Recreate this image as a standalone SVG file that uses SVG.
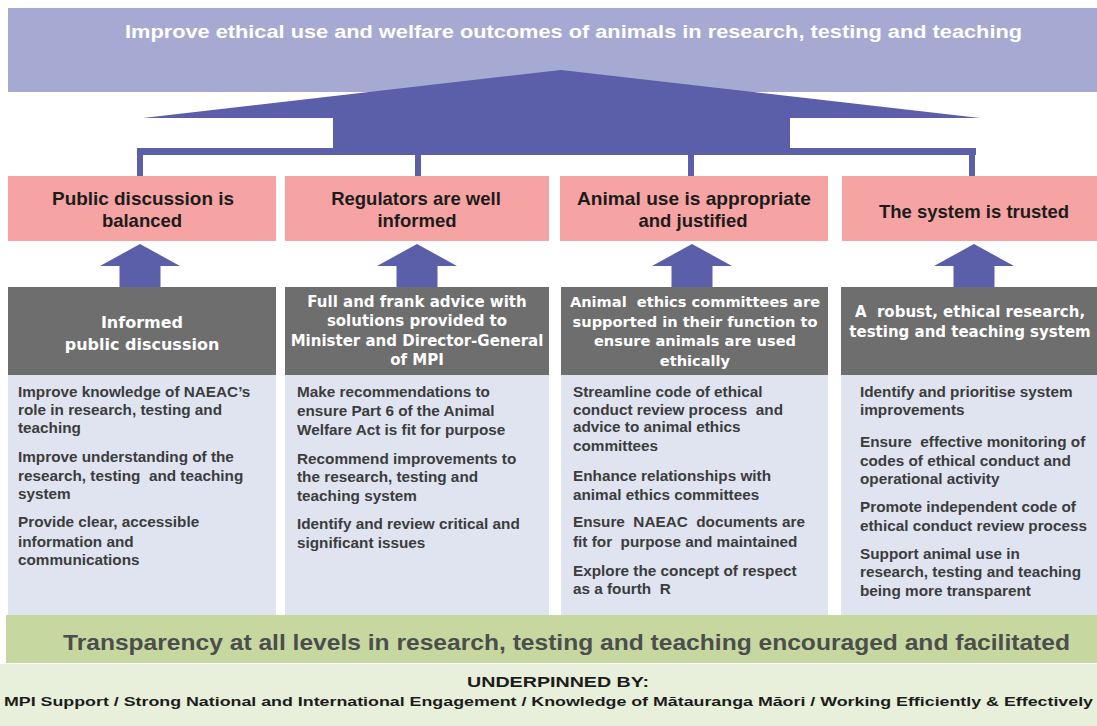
<svg xmlns="http://www.w3.org/2000/svg" width="1097" height="726" viewBox="0 0 1097 726">
<style>
.bg{fill:#ffffff}
.goal{fill:#a6a9d2}
.conn{fill:#5b5ea8}
.pink{fill:#f6a3a3}
.grey{fill:#6e6e6e}
.blue{fill:#dfe4f0}
.green{fill:#c6d8a0}
.lgreen{fill:#e8efdb}
.title{font-family:"Liberation Sans",Arial,sans-serif;font-weight:bold;font-size:18px;fill:#ffffff}
.pt{font-family:"Liberation Sans",Arial,sans-serif;font-weight:bold;font-size:18.5px;fill:#1c1c1c;text-anchor:middle}
.gt{font-family:"DejaVu Sans",Verdana,sans-serif;font-weight:bold;font-size:15px;fill:#ffffff;text-anchor:middle}
.gt3{font-family:"DejaVu Sans",Verdana,sans-serif;font-weight:bold;font-size:14.6px;fill:#ffffff;text-anchor:middle}
.gt2{font-family:"DejaVu Sans",Verdana,sans-serif;font-weight:bold;font-size:16px;fill:#ffffff;text-anchor:middle}
.gt4{font-family:"DejaVu Sans",Verdana,sans-serif;font-weight:bold;font-size:15px;fill:#ffffff;text-anchor:middle}
.bt{font-family:"Liberation Sans",Arial,sans-serif;font-weight:bold;font-size:15.3px;fill:#3c3c3c}
.tr{font-family:"Liberation Sans",Arial,sans-serif;font-weight:bold;font-size:22px;fill:#4d4d4d}
.ub{font-family:"Liberation Sans",Arial,sans-serif;font-weight:bold;font-size:15px;fill:#1c1c1c;text-anchor:middle}
.mp{font-family:"Liberation Sans",Arial,sans-serif;font-weight:bold;font-size:13px;fill:#1c1c1c}
</style>
<defs>
<path id="uparrow" d="M0,0 L40,22 L20.5,22 L20.5,43 L-20.5,43 L-20.5,22 L-40,22 Z"/>
</defs>
<rect class="bg" x="0" y="0" width="1097" height="726"/>

<g id="goal">
<rect class="goal" x="8" y="8" width="1089" height="84"/>
<text class="title" x="125" y="38" textLength="897" lengthAdjust="spacingAndGlyphs">Improve ethical use and welfare outcomes of animals in research, testing and teaching</text>
</g>

<g id="connectors">
<polygon class="conn" points="143,118 561,70 980,118"/>
<rect class="conn" x="333" y="117" width="457" height="38"/>
<rect class="conn" x="137" y="148" width="839" height="7"/>
<rect class="conn" x="137" y="154" width="6" height="23"/>
<rect class="conn" x="415" y="154" width="6" height="23"/>
<rect class="conn" x="688" y="154" width="6" height="23"/>
<rect class="conn" x="969" y="154" width="6" height="23"/>
<use href="#uparrow" class="conn" x="140" y="244"/>
<use href="#uparrow" class="conn" x="417" y="244"/>
<use href="#uparrow" class="conn" x="692" y="244"/>
<use href="#uparrow" class="conn" x="974" y="244"/>
</g>

<g id="outcome-1">
<rect class="pink" x="8" y="176" width="268" height="65"/>
<text class="pt" x="143" y="205" textLength="182" lengthAdjust="spacingAndGlyphs">Public discussion is</text>
<text class="pt" x="142" y="227">balanced</text>
</g>
<g id="outcome-2">
<rect class="pink" x="285" y="176" width="264" height="65"/>
<text class="pt" x="416" y="205">Regulators are well</text>
<text class="pt" x="417" y="227">informed</text>
</g>
<g id="outcome-3">
<rect class="pink" x="560" y="176" width="268" height="65"/>
<text class="pt" x="694" y="205" textLength="234" lengthAdjust="spacingAndGlyphs">Animal use is appropriate</text>
<text class="pt" x="693" y="227">and justified</text>
</g>
<g id="outcome-4">
<rect class="pink" x="842" y="176" width="255" height="65"/>
<text class="pt" x="974" y="218">The system is trusted</text>
</g>

<g id="objective-1">
<rect class="grey" x="8" y="287" width="268" height="88"/>
<text class="gt2" x="142" y="328">Informed</text>
<text class="gt2" x="142" y="350">public discussion</text>
</g>
<g id="objective-2">
<rect class="grey" x="285" y="287" width="264" height="88"/>
<text class="gt" x="417" y="307">Full and frank advice with</text>
<text class="gt" x="417" y="326">solutions provided to</text>
<text class="gt" x="417" y="346">Minister and Director-General</text>
<text class="gt" x="417" y="365">of MPI</text>
</g>
<g id="objective-3">
<rect class="grey" x="561" y="287" width="267" height="88"/>
<text class="gt3" x="695" y="307" xml:space="preserve">Animal  ethics committees are</text>
<text class="gt3" x="695" y="327">supported in their function to</text>
<text class="gt3" x="695" y="346">ensure animals are used</text>
<text class="gt3" x="695" y="366">ethically</text>
</g>
<g id="objective-4">
<rect class="grey" x="841" y="287" width="256" height="88"/>
<text class="gt4" x="970" y="317" xml:space="preserve">A  robust, ethical research,</text>
<text class="gt4" x="970" y="337">testing and teaching system</text>
</g>

<g id="actions-1">
<rect class="blue" x="8" y="375" width="268" height="240"/>
<text class="bt" x="18" y="397">Improve knowledge of NAEAC’s</text>
<text class="bt" x="18" y="415">role in research, testing and</text>
<text class="bt" x="18" y="433">teaching</text>
<text class="bt" x="18" y="462">Improve understanding of the</text>
<text class="bt" x="18" y="481" xml:space="preserve">research, testing  and teaching</text>
<text class="bt" x="18" y="499">system</text>
<text class="bt" x="18" y="527">Provide clear, accessible</text>
<text class="bt" x="18" y="547">information and</text>
<text class="bt" x="18" y="565">communications</text>
</g>
<g id="actions-2">
<rect class="blue" x="285" y="375" width="264" height="240"/>
<text class="bt" x="297" y="397">Make recommendations to</text>
<text class="bt" x="297" y="416">ensure Part 6 of the Animal</text>
<text class="bt" x="297" y="435">Welfare Act is fit for purpose</text>
<text class="bt" x="297" y="464">Recommend improvements to</text>
<text class="bt" x="297" y="482">the research, testing and</text>
<text class="bt" x="297" y="501">teaching system</text>
<text class="bt" x="297" y="529">Identify and review critical and</text>
<text class="bt" x="297" y="548">significant issues</text>
</g>
<g id="actions-3">
<rect class="blue" x="561" y="375" width="267" height="240"/>
<text class="bt" x="573" y="397">Streamline code of ethical</text>
<text class="bt" x="573" y="415" xml:space="preserve">conduct review process  and</text>
<text class="bt" x="573" y="432">advice to animal ethics</text>
<text class="bt" x="573" y="451">committees</text>
<text class="bt" x="573" y="481">Enhance relationships with</text>
<text class="bt" x="573" y="500">animal ethics committees</text>
<text class="bt" x="573" y="527" xml:space="preserve">Ensure  NAEAC  documents are</text>
<text class="bt" x="573" y="547" xml:space="preserve">fit for  purpose and maintained</text>
<text class="bt" x="573" y="576">Explore the concept of respect</text>
<text class="bt" x="573" y="594" xml:space="preserve">as a fourth  R</text>
</g>
<g id="actions-4">
<rect class="blue" x="841" y="375" width="256" height="240"/>
<text class="bt" x="860" y="397">Identify and prioritise system</text>
<text class="bt" x="860" y="415">improvements</text>
<text class="bt" x="860" y="447" xml:space="preserve">Ensure  effective monitoring of</text>
<text class="bt" x="860" y="466">codes of ethical conduct and</text>
<text class="bt" x="860" y="484">operational activity</text>
<text class="bt" x="860" y="512">Promote independent code of</text>
<text class="bt" x="860" y="531">ethical conduct review process</text>
<text class="bt" x="860" y="559">Support animal use in</text>
<text class="bt" x="860" y="577">research, testing and teaching</text>
<text class="bt" x="860" y="596">being more transparent</text>
</g>

<g id="transparency">
<rect class="green" x="6" y="615" width="1091" height="48"/>
<text class="tr" x="63" y="650" textLength="1007" lengthAdjust="spacingAndGlyphs">Transparency at all levels in research, testing and teaching encouraged and facilitated</text>
</g>
<g id="underpinned">
<rect class="lgreen" x="0" y="664" width="1097" height="62"/>
<text class="ub" x="558" y="687" textLength="182" lengthAdjust="spacingAndGlyphs">UNDERPINNED BY:</text>
<text class="mp" x="4" y="706" textLength="1089" lengthAdjust="spacingAndGlyphs">MPI Support / Strong National and International Engagement / Knowledge of Mātauranga Māori / Working Efficiently &amp; Effectively</text>
</g>
</svg>
